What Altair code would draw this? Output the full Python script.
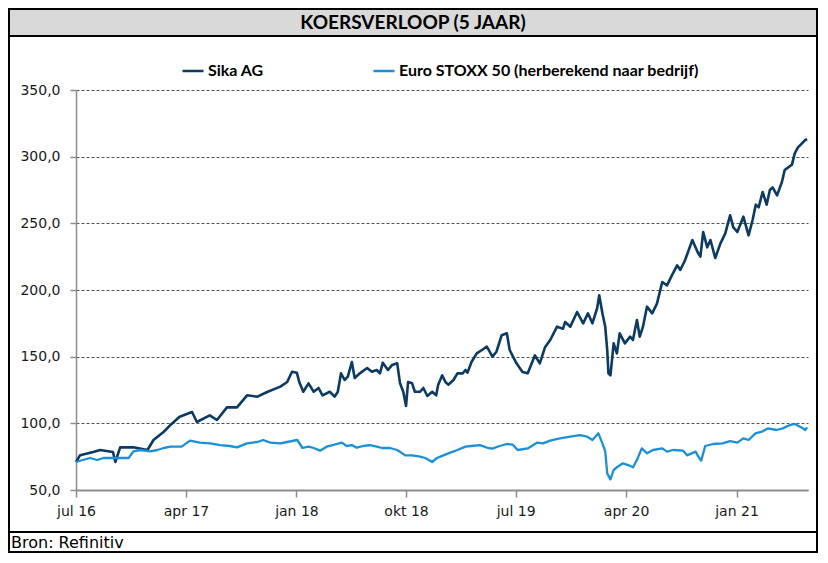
import altair as alt
import pandas as pd

TITLE = "KOERSVERLOOP (5 JAAR)"
SOURCE = "Bron: Refinitiv"
SERIES = ["Sika AG", "Euro STOXX 50 (herberekend naar bedrijf)"]
COLORS = ["#0b3a63", "#1a90d8"]
Y_TICKS = [50, 100, 150, 200, 250, 300, 350]
X_TICKS = ["2016-07-01", "2017-04-01", "2018-01-01", "2018-10-01",
           "2019-07-01", "2020-04-01", "2021-01-01"]
X_DOMAIN = ["2016-07-01", "2021-06-28"]
MONTHS_NL = ["jan", "feb", "mrt", "apr", "mei", "jun",
             "jul", "aug", "sep", "okt", "nov", "dec"]

sika_dates = [
    "2016-07-01", "2016-07-11", "2016-08-13", "2016-08-30", "2016-10-01", "2016-10-07",
    "2016-10-19", "2016-11-21", "2016-12-26",
    "2017-01-10", "2017-02-04", "2017-02-22", "2017-03-16", "2017-04-16", "2017-04-28",
    "2017-05-30", "2017-06-17", "2017-07-12", "2017-08-06", "2017-08-31", "2017-09-26",
    "2017-10-20", "2017-11-22", "2017-12-09", "2017-12-21",
    "2018-01-02", "2018-01-08", "2018-01-18", "2018-01-31", "2018-02-13", "2018-02-25",
    "2018-03-07", "2018-03-25", "2018-04-06", "2018-04-14", "2018-04-22", "2018-05-01",
    "2018-05-09", "2018-05-19", "2018-05-26", "2018-06-08", "2018-06-26", "2018-07-08",
    "2018-07-20", "2018-07-28", "2018-08-04", "2018-08-17", "2018-08-27", "2018-09-09",
    "2018-09-16", "2018-09-24", "2018-10-01", "2018-10-06", "2018-10-16", "2018-10-23",
    "2018-11-05", "2018-11-13", "2018-11-23", "2018-12-05", "2018-12-15", "2018-12-20",
    "2018-12-30",
    "2019-01-07", "2019-01-14", "2019-01-27", "2019-02-06", "2019-02-19", "2019-02-26",
    "2019-03-03", "2019-03-13", "2019-03-26", "2019-04-08", "2019-04-20", "2019-04-25",
    "2019-05-04", "2019-05-14", "2019-05-27", "2019-06-09", "2019-06-16", "2019-07-03",
    "2019-07-18", "2019-07-31", "2019-08-18", "2019-08-30", "2019-09-12", "2019-09-25",
    "2019-10-12", "2019-10-27", "2019-11-01", "2019-11-14", "2019-12-01", "2019-12-16",
    "2019-12-28",
    "2020-01-08", "2020-01-20", "2020-01-25", "2020-02-02", "2020-02-09", "2020-02-14",
    "2020-02-17", "2020-02-22", "2020-03-01", "2020-03-09", "2020-03-16", "2020-03-29",
    "2020-04-11", "2020-04-18", "2020-04-28", "2020-05-05", "2020-05-13", "2020-05-23",
    "2020-06-05", "2020-06-17", "2020-06-30", "2020-07-12", "2020-07-24", "2020-08-06",
    "2020-08-14", "2020-08-26", "2020-09-13", "2020-09-26", "2020-10-03", "2020-10-10",
    "2020-10-20", "2020-10-28", "2020-11-09", "2020-11-22", "2020-12-04", "2020-12-16",
    "2020-12-24",
    "2021-01-03", "2021-01-18", "2021-01-31", "2021-02-10", "2021-02-18", "2021-02-25",
    "2021-03-07", "2021-03-17", "2021-03-25", "2021-04-01", "2021-04-12", "2021-04-24",
    "2021-05-01", "2021-05-19", "2021-05-26", "2021-06-03", "2021-06-13", "2021-06-21",
    "2021-06-26",
]
sika_values = [
    71, 76, 78.5, 80, 78.5, 71, 82, 82, 80,
    87.5, 93.5, 99, 105, 108.5, 101, 106, 102.5, 112, 112, 121, 120, 123.5, 127.5, 131, 138.7,
    138, 131, 123.7, 130, 123.7, 126.5, 121, 123.7, 120, 123.7, 137.5, 132.5, 135, 146, 134,
    137.5, 141.5, 138.7, 140, 137.5, 145.5, 140, 143.7, 145, 130, 123.7, 113, 131, 130, 123.7,
    123.7, 126.5, 120.5, 123.7, 121, 129, 136,
    131, 129, 132.5, 137.5, 137.5, 140, 138, 146, 152.5, 155, 157.5, 155, 150, 153.7, 166,
    167.5, 155, 145, 138.5, 137.5, 151, 145, 157, 162.5, 172.5, 171, 176, 172.5, 183.5, 175,
    182.5,
    175, 186.5, 196, 182.5, 172.5, 155, 137.5, 136, 160, 152.5, 167.5, 160, 165, 162.5, 177.5,
    165, 172.5, 187.5, 182.5, 190, 206, 203.5, 211, 218.5, 215, 222.5, 237.5, 228.5, 225,
    243.5, 232, 237.5, 224, 235, 242.5, 256, 247,
    243.5, 255, 241, 252.5, 264, 262, 273.5, 264, 275, 277, 271, 281, 290, 294, 302.5, 307,
    310, 312.5, 313,
]

euro_dates = [
    "2016-07-01", "2016-07-18", "2016-08-05", "2016-08-23", "2016-09-07", "2016-09-30",
    "2016-10-19", "2016-11-09", "2016-11-21", "2016-12-08",
    "2017-01-02", "2017-01-20", "2017-02-04", "2017-02-22", "2017-03-21", "2017-04-11",
    "2017-05-05", "2017-05-31", "2017-06-25", "2017-07-19", "2017-08-06", "2017-08-31",
    "2017-09-26", "2017-10-10", "2017-10-28", "2017-11-22", "2017-12-09",
    "2018-01-03", "2018-01-16", "2018-01-31", "2018-02-13", "2018-03-01", "2018-03-17",
    "2018-04-01", "2018-04-24", "2018-05-06", "2018-05-19", "2018-05-31", "2018-06-16",
    "2018-07-03", "2018-07-20", "2018-08-02", "2018-08-22", "2018-09-09", "2018-09-29",
    "2018-10-16", "2018-11-05", "2018-11-18", "2018-12-05", "2018-12-17",
    "2019-01-02", "2019-01-19", "2019-02-06", "2019-02-26", "2019-03-13", "2019-04-03",
    "2019-04-23", "2019-05-04", "2019-05-22", "2019-06-09", "2019-06-24", "2019-07-06",
    "2019-07-31", "2019-08-23", "2019-09-07", "2019-09-25", "2019-10-19", "2019-11-14",
    "2019-12-08", "2019-12-26",
    "2020-01-08", "2020-01-23", "2020-02-02", "2020-02-09", "2020-02-14", "2020-02-22",
    "2020-03-01", "2020-03-11", "2020-03-24", "2020-04-06", "2020-04-18", "2020-04-28",
    "2020-05-10", "2020-05-23", "2020-06-07", "2020-06-30", "2020-07-12", "2020-07-27",
    "2020-08-21", "2020-08-31", "2020-09-21", "2020-09-28", "2020-10-05", "2020-10-15",
    "2020-11-04", "2020-11-27", "2020-12-16",
    "2021-01-03", "2021-01-18", "2021-01-31", "2021-02-17", "2021-03-05", "2021-03-20",
    "2021-04-11", "2021-04-26", "2021-05-14", "2021-05-26", "2021-06-08", "2021-06-16",
    "2021-06-21", "2021-06-26",
]
euro_values = [
    71, 72.5, 74, 72.5, 74, 74, 74, 74, 79, 80,
    79, 80, 81.5, 82.5, 82.5, 87, 85.5, 85, 83.7, 83, 82, 85, 86, 87.5, 85.5, 85, 86,
    87.5, 81.5, 82.5, 81.5, 79.5, 82.5, 83.7, 85.5, 83, 83.7, 81.7, 83, 83.7, 82.5, 81.5,
    81.5, 80, 76, 76, 75, 74, 71, 74,
    76, 78, 80, 82.5, 83, 83.7, 81.5, 81, 83, 84.5, 84, 80, 81.2, 85.5, 85, 87, 88.7, 90,
    91.2, 90,
    87.5, 92.5, 85, 79, 62.5, 58, 65, 67.5, 70, 68.7, 67, 72.5, 81.2, 77.5, 80, 81.2, 78.8,
    80, 79.5, 76, 78.8, 75, 72, 83, 84.5, 85, 86.7,
    85.5, 88.7, 87.5, 92.5, 93.7, 96.2, 95, 96.2, 98.7, 99.5, 97.5, 96.2, 95, 97,
]


def dt(s):
    y, m, d = (int(p) for p in s.split("-"))
    return alt.DateTime(year=y, month=m, date=d, utc=True)


sika_df = pd.DataFrame({"date": sika_dates, "value": sika_values, "series": SERIES[0]})
euro_df = pd.DataFrame({"date": euro_dates, "value": euro_values, "series": SERIES[1]})
dummy = pd.DataFrame({"k": [0]})

month_arr = "[" + ",".join("'%s'" % m for m in MONTHS_NL) + "]"

x_enc = alt.X(
    "date:T",
    title=None,
    scale=alt.Scale(type="utc", domain=[dt(X_DOMAIN[0]), dt(X_DOMAIN[1])]),
    axis=alt.Axis(
        values=[dt(s) for s in X_TICKS],
        labelExpr=month_arr + "[utcmonth(datum.value)] + ' ' + utcFormat(datum.value, '%y')",
        grid=False,
        domainColor="#8c8c8c", domainWidth=2,
        tickColor="#8c8c8c", tickWidth=1.5, tickSize=7,
        labelFont="DejaVu Sans", labelFontSize=14, labelColor="#1a1a1a",
        labelPadding=7, labelFlush=False, labelOverlap=False,
        zindex=1,
    ),
)
y_enc = alt.Y(
    "value:Q",
    title=None,
    scale=alt.Scale(domain=[50, 350], nice=False, zero=False),
    axis=alt.Axis(
        values=Y_TICKS,
        labelExpr="replace(format(datum.value, '.1f'), '.', ',')",
        grid=True, gridColor="#555555", gridDash=[3, 2], gridWidth=1,
        domainColor="#8c8c8c", domainWidth=1.5,
        tickColor="#8c8c8c", tickWidth=1.5, tickSize=6,
        labelFont="DejaVu Sans", labelFontSize=14, labelColor="#1a1a1a",
        labelPadding=10,
    ),
)
color_enc = alt.Color(
    "series:N",
    sort=SERIES,
    scale=alt.Scale(domain=SERIES, range=COLORS),
    legend=alt.Legend(
        title=None, orient="none", legendX=105, legendY=-31,
        direction="horizontal", symbolType="stroke", symbolSize=441,
        symbolStrokeWidth=2.5, labelFont="Lato", labelFontWeight="bold",
        labelFontSize=16, labelColor="black", labelLimit=500, labelOffset=3,
        columnPadding=104,
    ),
)

band = alt.Chart(dummy).mark_rect(fill="#d9d9d9", stroke="black", strokeWidth=2).encode(
    x=alt.value(-67), x2=alt.value(741), y=alt.value(-81), y2=alt.value(-54))
frame = alt.Chart(dummy).mark_rect(fill="transparent", stroke="black", strokeWidth=2).encode(
    x=alt.value(-67), x2=alt.value(741), y=alt.value(-81), y2=alt.value(462))
footer_rule = alt.Chart(dummy).mark_rule(color="black", strokeWidth=2).encode(
    x=alt.value(-67), x2=alt.value(741), y=alt.value(442))

sika_line = alt.Chart(sika_df).mark_line(strokeWidth=2.6, strokeJoin="round").encode(
    x=x_enc, y=y_enc, color=color_enc)
euro_line = alt.Chart(euro_df).mark_line(strokeWidth=2.3, strokeJoin="round").encode(
    x=x_enc, y=y_enc, color=color_enc)

title_text = alt.Chart(dummy).mark_text(
    font="Lato", fontWeight="bold", fontSize=19, align="center", baseline="middle",
    color="black").encode(x=alt.value(337), y=alt.value(-67), text=alt.value(TITLE))
source_text = alt.Chart(dummy).mark_text(
    font="DejaVu Sans", fontSize=16, align="left", baseline="middle",
    color="black").encode(x=alt.value(-65), y=alt.value(452.5), text=alt.value(SOURCE))

chart = alt.layer(
    band, frame, footer_rule, sika_line, euro_line, title_text, source_text
).properties(
    width=732,
    height=400,
    padding={"left": 68, "top": 82, "right": 11, "bottom": 63},
    autosize=alt.AutoSizeParams(type="none"),
    background="white",
).configure_view(strokeWidth=0)

chart.save("out.html", embed_options={"renderer": "svg", "actions": False})
